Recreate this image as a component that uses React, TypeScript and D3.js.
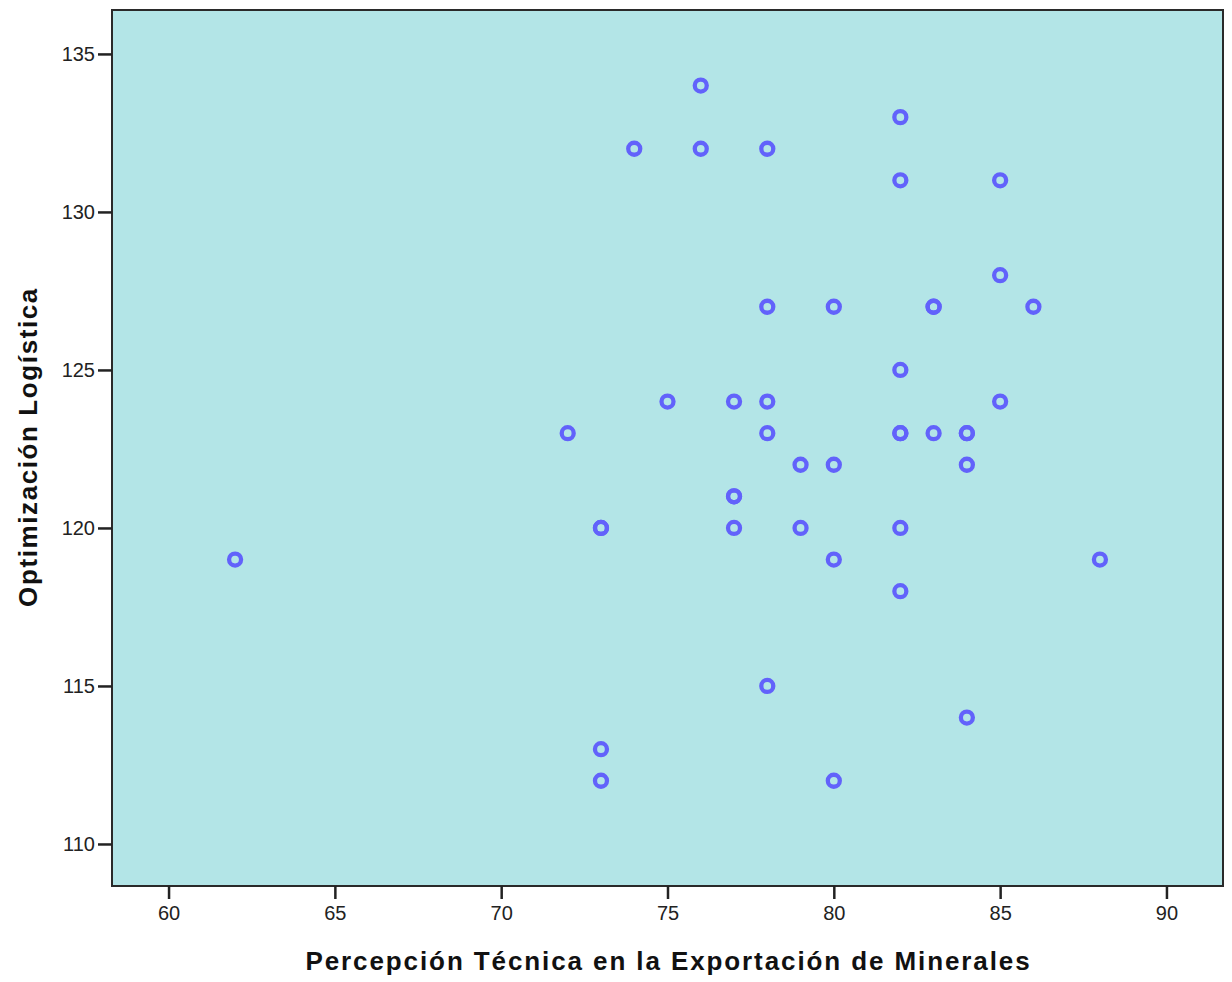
import * as React from "react";
import { useEffect, useRef } from "react";
import { select, scaleLinear, axisBottom, axisLeft } from "d3";

// Percepción Técnica (x) vs Optimización Logística (y)
const xValues = [
  76, 82, 74, 76, 78, 82, 85, 85, 78, 80, 83, 83, 86, 82, 75, 77, 78, 85,
  72, 78, 82, 82, 83, 84, 84, 79, 80, 84, 77, 77, 73, 73, 77, 79, 82, 62, 80,
  88, 82, 78, 84, 73, 73, 80,
];
const yValues = [
  134, 133, 132, 132, 132, 131, 131, 128, 127, 127, 127, 127, 127, 125, 124,
  124, 124, 124, 123, 123, 123, 123, 123, 123, 123, 122, 122, 122, 121, 121,
  120, 120, 120, 120, 120, 119, 119, 119, 118, 115, 114, 113, 112, 112,
];
const xTicks = [60, 65, 70, 75, 80, 85, 90];
const yTicks = [110, 115, 120, 125, 130, 135];

const W = 1232;
const H = 982;
const left = 112;
const right = 1223;
const top = 10;
const bottom = 886;
const font = "'Liberation Sans', Arial, sans-serif";

function App() {
  const svgRef = useRef<SVGSVGElement>(null);

  useEffect(() => {
    const svg = select(svgRef.current);
    svg.selectAll("*").remove();

    const xScale = scaleLinear().domain([58.3, 91.7]).range([left, right]);
    const yScale = scaleLinear().domain([108.67, 136.39]).range([bottom, top]);

    svg
      .append("rect")
      .attr("x", left)
      .attr("y", top)
      .attr("width", right - left)
      .attr("height", bottom - top)
      .attr("fill", "#b3e5e7")
      .attr("stroke", "#2a2a2a")
      .attr("stroke-width", 2);

    const xAxis: any = axisBottom(xScale)
      .tickValues(xTicks)
      .tickSize(13)
      .tickSizeOuter(0)
      .tickPadding(7);
    const gx = svg
      .append("g")
      .attr("transform", `translate(0,${bottom})`)
      .call(xAxis);
    gx.select(".domain").remove();

    const yAxis: any = axisLeft(yScale)
      .tickValues(yTicks)
      .tickSize(14)
      .tickSizeOuter(0)
      .tickPadding(3);
    const gy = svg
      .append("g")
      .attr("transform", `translate(${left},0)`)
      .call(yAxis);
    gy.select(".domain").remove();

    svg
      .selectAll("g.tick line")
      .attr("stroke", "#222")
      .attr("stroke-width", 2.5);
    svg
      .selectAll("g.tick text")
      .attr("fill", "#222")
      .style("font-family", font)
      .style("font-size", "20px");

    svg
      .append("g")
      .selectAll("circle")
      .data(xValues.map((x, i) => [x, yValues[i]]))
      .join("circle")
      .attr("cx", (d) => xScale(d[0]))
      .attr("cy", (d) => yScale(d[1]))
      .attr("r", 6)
      .attr("fill", "none")
      .attr("stroke", "#6262fb")
      .attr("stroke-width", 4.3);

    svg
      .append("text")
      .attr("x", (left + right) / 2 + 1)
      .attr("y", 970)
      .attr("text-anchor", "middle")
      .style("font-family", font)
      .style("font-size", "26px")
      .style("font-weight", "bold")
      .style("letter-spacing", "1.9px")
      .attr("fill", "#111")
      .text("Percepción Técnica en la Exportación de Minerales");

    svg
      .append("text")
      .attr("transform", `translate(37,447) rotate(-90)`)
      .attr("text-anchor", "middle")
      .style("font-family", font)
      .style("font-size", "26px")
      .style("font-weight", "bold")
      .style("letter-spacing", "1.6px")
      .attr("fill", "#111")
      .text("Optimización Logística");
  }, []);

  return (
    <svg
      ref={svgRef}
      width={W}
      height={H}
      style={{ position: "absolute", left: 0, top: 0, background: "#fff" }}
    />
  );
}

export default App;
